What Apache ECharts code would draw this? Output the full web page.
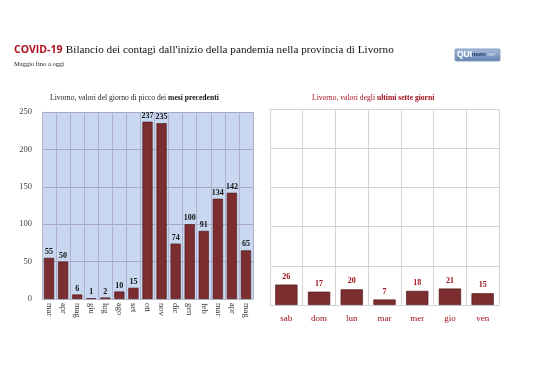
<!DOCTYPE html>
<html><head><meta charset="utf-8">
<script src="https://cdn.jsdelivr.net/npm/echarts@6/dist/echarts.min.js"></script>
<style>html,body{margin:0;padding:0;background:#fff}#c{width:538px;height:380px}</style>
</head><body><div id="c"></div>
<script>
var months = ['mar','apr','mag','giu','lug','ago','set','ott','nov','dic','gen','feb','mar','apr','mag'];
var monthPeaks = [55,50,6,1,2,10,15,237,235,74,100,91,134,142,65];
var days = ['sab','dom','lun','mar','mer','gio','ven'];
var dayValues = [26,17,20,7,18,21,15];
var yTicks = [0,50,100,150,200,250];

var serif = '"Liberation Serif","DejaVu Serif",serif';
var barColor = '#7b2d2f';
var chart = echarts.init(document.getElementById('c'), null, {renderer:'canvas'});
chart.setOption({
  backgroundColor:'#fff',
  animation:false,
  graphic:[
    {type:'text', left:14, top:44, style:{rich:{a:{fontFamily:'"Open Sans","Liberation Sans",sans-serif',fontWeight:'bold',fontSize:10.5,fill:'#b0101c'},b:{fontFamily:serif,fontSize:11.2,fill:'#111'}}, text:'{a|COVID-19} {b|Bilancio dei contagi dall\'inizio della pandemia nella provincia di Livorno}'}},
    {type:'text', left:14, top:61, style:{text:'Maggio fino a oggi', fontFamily:serif, fontSize:6.5, fill:'#222'}},
    {type:'rect', shape:{x:455,y:49,width:45,height:12,r:1}, style:{fill:new echarts.graphic.LinearGradient(0,0,0,1,[{offset:0,color:'#a9bfdc'},{offset:1,color:'#5f7fae'}]), stroke:'#8aa0c0'}},
    {type:'text', left:457, top:50, style:{rich:{q:{fontFamily:'"Liberation Sans",sans-serif',fontWeight:'bold',fontSize:8.5,fill:'#fff'},n:{fontFamily:'"Liberation Sans",sans-serif',fontWeight:'bold',fontSize:5.5,fill:'#233a66'},t:{fontFamily:'"Liberation Sans",sans-serif',fontSize:5.5,fill:'#dde6f4'}}, text:'{q|QUI}{n|news}{t|.net}'}},
    {type:'text', left:50, top:94, style:{rich:{a:{fontFamily:serif,fontSize:7.6,fill:'#222'},b:{fontFamily:serif,fontSize:7.6,fontWeight:'bold',fill:'#111'}}, text:'{a|Livorno, valori del giorno di picco dei }{b|mesi precedenti}'}},
    {type:'text', left:312, top:94, style:{rich:{a:{fontFamily:serif,fontSize:7.6,fill:'#a0101c'},b:{fontFamily:serif,fontSize:7.6,fontWeight:'bold',fill:'#a0101c'}}, text:'{a|Livorno, valori degli }{b|ultimi sette giorni}'}}
  ],
  grid:[
    {left:42, top:112, width:211, height:187, show:true, backgroundColor:'#c9d8f1', borderWidth:0},
    {left:270, top:109, width:229, height:196, show:false}
  ],
  xAxis:[
    {type:'category', gridIndex:0, data:months,
     axisLine:{show:true,lineStyle:{color:'#b8b8c8'}}, axisTick:{show:false},
     splitLine:{show:true,lineStyle:{color:'#b0b0cc',width:1}},
     axisLabel:{rotate:-90, fontFamily:serif, fontSize:8.5, color:'#333', margin:4, interval:0}},
    {type:'category', gridIndex:1, data:days,
     axisLine:{show:true,lineStyle:{color:'#d4d4d4'}}, axisTick:{show:false},
     splitLine:{show:true,lineStyle:{color:'#d4d4d4',width:1}},
     axisLabel:{fontFamily:serif, fontSize:9, color:'#a0101c', margin:9, interval:0}}
  ],
  yAxis:[
    {type:'value', gridIndex:0, min:yTicks[0], max:yTicks[yTicks.length-1], interval:50,
     axisLine:{show:true,lineStyle:{color:'#b8b8c8'}}, axisTick:{show:false},
     splitLine:{lineStyle:{color:'#a8a8c4',width:1}},
     axisLabel:{fontFamily:serif, fontSize:8.5, color:'#444', margin:10}},
    {type:'value', gridIndex:1, min:yTicks[0], max:yTicks[yTicks.length-1], interval:50,
     axisLine:{show:true,lineStyle:{color:'#d4d4d4'}}, axisTick:{show:false},
     splitLine:{lineStyle:{color:'#d4d4d4',width:1}},
     axisLabel:{show:false}}
  ],
  series:[
    {type:'bar', xAxisIndex:0, yAxisIndex:0, data:monthPeaks, barWidth:'72%',
     itemStyle:{color:barColor, borderColor:'#4e1416', borderWidth:0.6},
     label:{show:true, position:'top', distance:2, fontFamily:serif, fontWeight:'bold', fontSize:8, color:'#111'}},
    {type:'bar', xAxisIndex:1, yAxisIndex:1, data:dayValues, barWidth:'68%',
     itemStyle:{color:barColor, borderColor:'#4e1416', borderWidth:0.6},
     label:{show:true, position:'top', distance:4, fontFamily:serif, fontWeight:'bold', fontSize:8, color:'#a0101c'}}
  ]
});
</script></body></html>
